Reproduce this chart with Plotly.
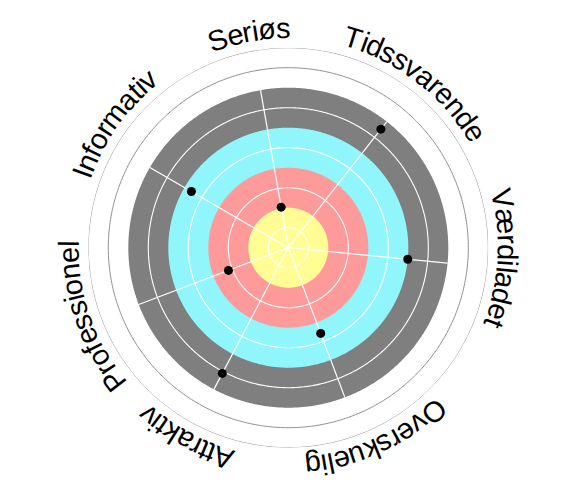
import numpy as np
import plotly.graph_objects as go

# ---- data ----
categories = ["Seriøs", "Tidssvarende", "Værdiladet", "Overskuelig",
              "Attraktiv", "Professionel", "Informativ"]
cat_angles = [-10.0, 38.0, 95.5, 159.3, 207.7, 249.2, 300.1]   # degrees, clockwise from top
label_angles = [-10.4, 37.6, 93.0, 155.5, 208.3, 251.0, 305.5]  # centre of each curved label
values = [1.03, 3.76, 3.0, 2.29, 3.55, 1.6, 2.8]

ring_edges = [1, 2, 3, 4]                        # outer radius of each coloured ring
ring_colors = ["#FFFD93", "#FF9A9A", "#90F6FB", "#7F7F7F"]
inner_grid = [0.5, 1.5, 2.5, 3.5]                # white grid circles
outer_grid = [4.5, 5.0]                          # grey grid circles
r_max = 5.0

# ---- layout geometry (pixels) ----
W, H = 578, 499
cx, cy = 288.3, 247.7
R_px = 200.0

fig = go.Figure()
circ = np.linspace(0, 360, 721)

# coloured discs, largest first
for edge, col in sorted(zip(ring_edges, ring_colors), reverse=True):
    fig.add_trace(go.Scatterpolar(r=[edge] * len(circ), theta=circ, mode="lines",
                                  fill="toself", fillcolor=col, line=dict(width=0, color=col),
                                  hoverinfo="skip", showlegend=False))
# white grid circles
for g in inner_grid:
    fig.add_trace(go.Scatterpolar(r=[g] * len(circ), theta=circ, mode="lines",
                                  line=dict(color="white", width=1.1),
                                  hoverinfo="skip", showlegend=False))
# spokes
for a in cat_angles:
    fig.add_trace(go.Scatterpolar(r=[0, ring_edges[-1]], theta=[a, a], mode="lines",
                                  line=dict(color="white", width=1.2),
                                  hoverinfo="skip", showlegend=False))
# grey outer circles
for g in outer_grid:
    fig.add_trace(go.Scatterpolar(r=[g] * len(circ), theta=circ, mode="lines",
                                  line=dict(color="#8C8C8C", width=1),
                                  hoverinfo="skip", showlegend=False))
# points
fig.add_trace(go.Scatterpolar(r=values, theta=cat_angles, mode="markers",
                              marker=dict(color="black", size=9),
                              text=categories, showlegend=False))

# ---- curved labels (one annotation per character) ----
char_w = {"S": .667, "e": .556, "r": .333, "i": .222, "ø": .611, "s": .5,
          "T": .611, "d": .556, "v": .5, "a": .556, "n": .556, "V": .667,
          "æ": .889, "l": .222, "t": .278, "O": .778, "k": .5, "u": .556,
          "g": .556, "A": .667, "P": .667, "o": .556, "f": .278, "I": .278,
          "m": .833}
fsize = 29
R_text = 219.5
annotations = []
for label, ang in zip(categories, label_angles):
    widths = [char_w.get(c, 0.55) * fsize for c in label]
    total = sum(widths)
    s = 0.0
    for c, w in zip(label, widths):
        off = s + w / 2 - total / 2
        th = ang + np.degrees(off / R_text)
        t = np.radians(th)
        px = cx + R_text * np.sin(t)
        py = cy - R_text * np.cos(t)
        rot = ((th + 180) % 360) - 180
        annotations.append(dict(x=px / W, y=1 - py / H, xref="paper", yref="paper",
                                text=c, showarrow=False, textangle=rot,
                                xanchor="center", yanchor="middle",
                                font=dict(family="Liberation Sans, Arial", size=fsize,
                                          color="black")))
        s += w

fig.update_layout(
    width=W, height=H,
    margin=dict(l=0, r=0, t=0, b=0),
    paper_bgcolor="white",
    polar=dict(
        domain=dict(x=[(cx - R_px) / W, (cx + R_px) / W],
                    y=[1 - (cy + R_px) / H, 1 - (cy - R_px) / H]),
        bgcolor="white",
        radialaxis=dict(range=[0, r_max], visible=False, showgrid=False),
        angularaxis=dict(rotation=90, direction="clockwise", visible=False,
                         showgrid=False),
    ),
    annotations=annotations,
    showlegend=False,
)

fig.write_html("out.html", config={"displayModeBar": False},
               post_script="document.body.style.margin='0';")
